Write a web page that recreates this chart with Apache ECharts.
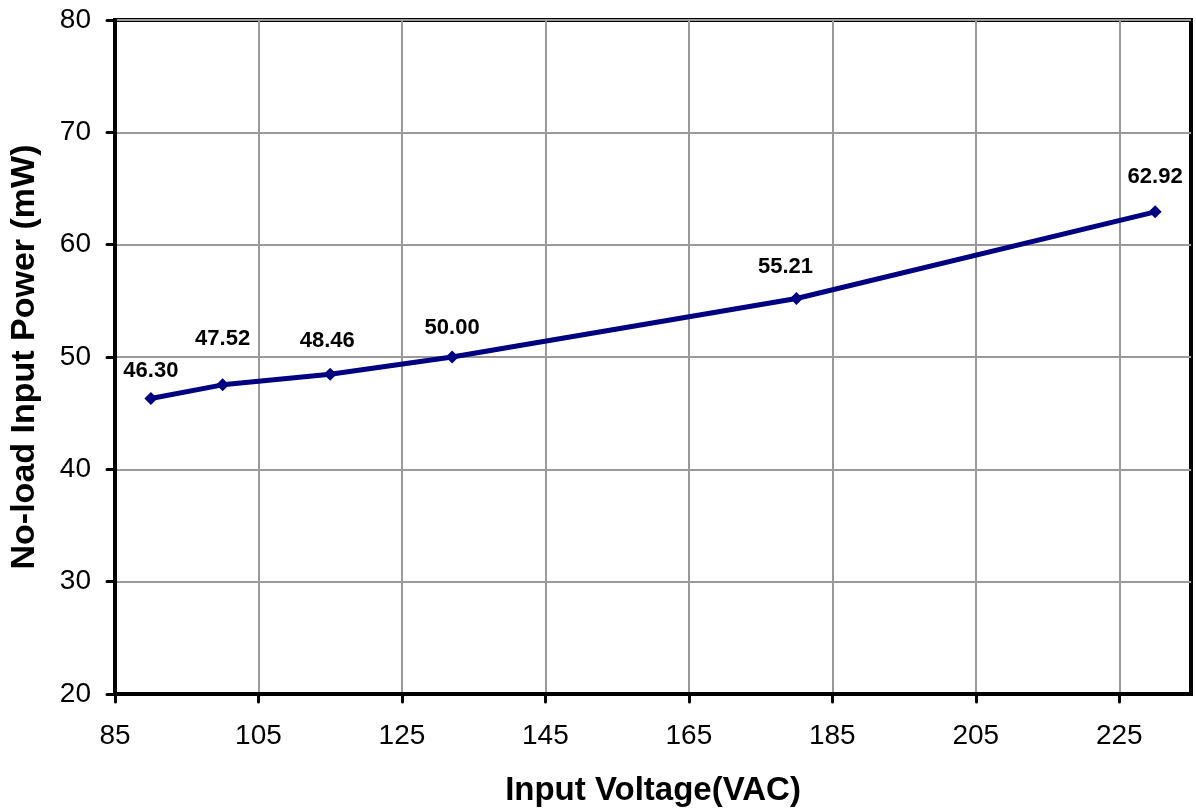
<!DOCTYPE html>
<html>
<head>
<meta charset="utf-8">
<script src="https://cdn.jsdelivr.net/npm/echarts@6/dist/echarts.min.js"></script>
<style>
html,body{margin:0;padding:0;background:#fff;}
#chart{width:1196px;height:812px;}
</style>
</head>
<body>
<div id="chart"></div>
<script>
// Data
var voltages = [90, 100, 115, 132, 180, 230];
var powers = [46.30, 47.52, 48.46, 50.00, 55.21, 62.92];
var xTicks = [85, 105, 125, 145, 165, 185, 205, 225];
var yTicks = [20, 30, 40, 50, 60, 70, 80];

// Layout only: label nudges per point
var labelOffsets = [[0, -5], [0, -23], [-3, -11], [0, -7], [-11, -9], [0, -12]];

var chart = echarts.init(document.getElementById('chart'));
var FONT = 'Liberation Sans, Arial, sans-serif';

var seriesData = voltages.map(function (v, i) {
  return {
    value: [v, powers[i]],
    label: { offset: labelOffsets[i] }
  };
});

chart.setOption({
  animation: false,
  backgroundColor: '#fff',
  grid: {
    left: 115, top: 20, right: 5, bottom: 116,
    show: true, borderColor: '#000', borderWidth: 4, backgroundColor: 'transparent'
  },
  xAxis: {
    type: 'value',
    min: 85, max: 235, interval: 20,
    name: 'Input Voltage(VAC)',
    nameLocation: 'middle',
    nameGap: 80,
    nameTextStyle: { fontFamily: FONT, fontSize: 33, fontWeight: 'bold', color: '#000' },
    axisLine: { show: true, onZero: false, lineStyle: { color: '#000', width: 4 } },
    axisTick: { show: true, inside: false, length: 8, lineStyle: { color: '#000', width: 3, cap: 'round' }, customValues: xTicks },
    axisLabel: { fontFamily: FONT, fontSize: 28, color: '#000', margin: 28, customValues: xTicks },
    splitLine: { show: true, lineStyle: { color: '#9a9a9a', width: 2 } }
  },
  yAxis: {
    type: 'value',
    min: 20, max: 80, interval: 10,
    name: 'No-load Input Power (mW)',
    nameLocation: 'middle',
    nameGap: 73,
    nameRotate: 90,
    nameTextStyle: { fontFamily: FONT, fontSize: 34, fontWeight: 'bold', color: '#000' },
    axisLine: { show: true, onZero: false, lineStyle: { color: '#000', width: 4 } },
    axisTick: { show: true, inside: false, length: 8, lineStyle: { color: '#000', width: 3, cap: 'round' } },
    axisLabel: { fontFamily: FONT, fontSize: 28, color: '#000', margin: 24 },
    splitLine: { show: true, lineStyle: { color: '#9a9a9a', width: 2 } }
  },
  series: [{
    type: 'line',
    data: seriesData,
    symbol: 'diamond',
    symbolSize: 13,
    itemStyle: { color: '#000080' },
    lineStyle: { color: '#000080', width: 5 },
    label: {
      show: true,
      position: 'top',
      distance: 5,
      fontFamily: FONT,
      fontSize: 22,
      fontWeight: 'bold',
      color: '#000',
      formatter: function (p) { return p.value[1].toFixed(2); }
    },
    z: 5
  }]
});
</script>
</body>
</html>
